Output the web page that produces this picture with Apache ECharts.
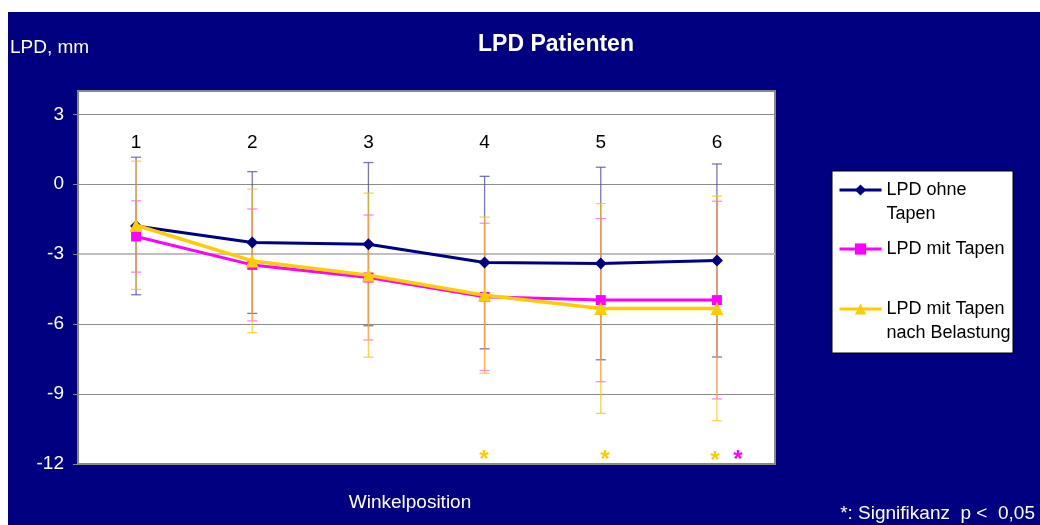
<!DOCTYPE html>
<html>
<head>
<meta charset="utf-8">
<script src="https://cdn.jsdelivr.net/npm/echarts@6/dist/echarts.min.js"></script>
<style>
html,body{margin:0;padding:0;background:#fff;width:1040px;height:525px;overflow:hidden;}
#c{position:absolute;left:8px;top:12px;width:1032px;height:513px;}
</style>
</head>
<body>
<div id="c"></div>
<script>
// ---- data ----
const categories = ['1', '2', '3', '4', '5', '6'];
const seriesNames = ['LPD ohne Tapen', 'LPD mit Tapen', 'LPD mit Tapen nach Belastung'];
const ohneTapen      = [-1.79, -2.50, -2.57, -3.36, -3.40, -3.27];
const ohneTapenSD    = [ 2.95,  3.04,  3.50,  3.70,  4.13,  4.14];
const mitTapen       = [-2.24, -3.46, -4.00, -4.83, -4.97, -4.97];
const mitTapenSD     = [ 1.53,  2.40,  2.68,  3.16,  3.50,  4.24];
const belastung      = [-1.76, -3.29, -3.90, -4.76, -5.33, -5.33];
const belastungSD    = [ 2.75,  3.08,  3.52,  3.35,  4.50,  4.82];
const yTicks = [-12, -9, -6, -3, 0, 3];

const FONT = "'Liberation Sans', Arial, sans-serif";
const chart = echarts.init(document.getElementById('c'));

function errSeries(name, means, sds, color, op) {
  return {
    type: 'custom', name: name + ' SD', silent: true, z: 1,
    data: means.map((m, i) => [i, m + sds[i], m - sds[i]]),
    renderItem: (params, api) => {
      const top = api.coord([api.value(0), api.value(1)]);
      const bot = api.coord([api.value(0), api.value(2)]);
      const hw = 5;
      const style = { stroke: color, lineWidth: 1.3, opacity: op };
      return { type: 'group', children: [
        { type: 'line', shape: { x1: top[0], y1: top[1], x2: bot[0], y2: bot[1] }, style },
        { type: 'line', shape: { x1: top[0] - hw, y1: top[1], x2: top[0] + hw, y2: top[1] }, style },
        { type: 'line', shape: { x1: bot[0] - hw, y1: bot[1], x2: bot[0] + hw, y2: bot[1] }, style }
      ]};
    }
  };
}

// leading blank line keeps the first text line level with the legend icon
const legendNames = {
  'LPD ohne Tapen': ' \nLPD ohne\nTapen',
  'LPD mit Tapen': 'LPD mit Tapen',
  'LPD mit Tapen nach Belastung': ' \nLPD mit Tapen\nnach Belastung'
};
function mkLegend(name, top) {
  return {
    data: [name], left: 830, top: top, orient: 'vertical', padding: 0,
    itemWidth: 42, itemHeight: 14, itemGap: 0, selectedMode: false,
    lineStyle: { width: 3 },
    formatter: n => legendNames[n],
    textStyle: { fontFamily: FONT, fontSize: 18, color: '#000', lineHeight: 24 }
  };
}

const option = {
  backgroundColor: '#000080',
  animation: false,
  grid: { left: 70, top: 79, right: 265, bottom: 61, show: true,
    backgroundColor: '#fff', borderColor: '#888', borderWidth: 2 },
  xAxis: {
    type: 'category', data: categories, position: 'top',
    axisLine: { show: false }, axisTick: { show: false },
    axisLabel: { inside: true, margin: 42, fontFamily: FONT, fontSize: 19, color: '#000' },
    splitLine: { show: false }
  },
  yAxis: {
    type: 'value', min: -12, max: 4, interval: 3,
    axisLine: { show: true, lineStyle: { color: '#888', width: 2 } },
    axisTick: { show: true, length: 5, lineStyle: { color: '#888' }, customValues: yTicks },
    axisLabel: { fontFamily: FONT, fontSize: 19, color: '#fff', margin: 14,
      formatter: v => (yTicks.indexOf(v) >= 0 ? String(v) : '') },
    splitLine: { show: true, lineStyle: { color: '#8c8c8c', width: 1.2 } }
  },
  legend: [
    mkLegend(seriesNames[0], 142),
    mkLegend(seriesNames[1], 225),
    mkLegend(seriesNames[2], 261)
  ],
  graphic: [
    { type: 'rect', z: -1, shape: { x: 824, y: 159, width: 181, height: 182 },
      style: { fill: '#fff', stroke: '#000', lineWidth: 1 } },
    { type: 'text', x: 2, y: 36, style: { text: 'LPD, mm', font: '19px ' + FONT, fill: '#fff', textVerticalAlign: 'middle' } },
    { type: 'text', x: 548, y: 33, style: { text: 'LPD Patienten', font: 'bold 23px ' + FONT, fill: '#fff', textAlign: 'center', textVerticalAlign: 'middle' } },
    { type: 'text', x: 402, y: 491, style: { text: 'Winkelposition', font: '19px ' + FONT, fill: '#fff', textAlign: 'center', textVerticalAlign: 'middle' } },
    { type: 'text', x: 1027, y: 502, style: { text: '*: Signifikanz  p <  0,05', font: '19px ' + FONT, fill: '#fff', textAlign: 'right', textVerticalAlign: 'middle' } },
    { type: 'text', x: 476, y: 448, z: 10, style: { text: '*', font: 'bold 24px ' + FONT, fill: '#ffcc00', textAlign: 'center', textVerticalAlign: 'middle' } },
    { type: 'text', x: 597, y: 448, z: 10, style: { text: '*', font: 'bold 24px ' + FONT, fill: '#ffcc00', textAlign: 'center', textVerticalAlign: 'middle' } },
    { type: 'text', x: 707, y: 449, z: 10, style: { text: '*', font: 'bold 24px ' + FONT, fill: '#ffcc00', textAlign: 'center', textVerticalAlign: 'middle' } },
    { type: 'text', x: 730, y: 448, z: 10, style: { text: '*', font: 'bold 24px ' + FONT, fill: '#ff00ff', textAlign: 'center', textVerticalAlign: 'middle' } }
  ],
  series: [
    errSeries(seriesNames[0], ohneTapen, ohneTapenSD, '#4a4aa8', 0.75),
    errSeries(seriesNames[1], mitTapen, mitTapenSD, '#ff33ff', 0.6),
    errSeries(seriesNames[2], belastung, belastungSD, '#ffc000', 0.7),
    {
      type: 'line', name: seriesNames[0], data: ohneTapen, z: 3,
      symbol: 'diamond', symbolSize: 12, showAllSymbol: true,
      lineStyle: { color: '#000080', width: 3 }, itemStyle: { color: '#000080' },
      markLine: { silent: true, symbol: 'none', label: { show: false },
        lineStyle: { color: '#c0c0c0', width: 2, type: 'solid' }, data: [{ yAxis: -3 }], z: 0 }
    },
    {
      type: 'line', name: seriesNames[1], data: mitTapen, z: 4,
      symbol: 'rect', symbolSize: 10, showAllSymbol: true,
      lineStyle: { color: '#ff00ff', width: 3 }, itemStyle: { color: '#ff00ff' }
    },
    {
      type: 'line', name: seriesNames[2], data: belastung, z: 5,
      symbol: 'triangle', symbolSize: 13, showAllSymbol: true,
      lineStyle: { color: '#ffcc00', width: 3.5 }, itemStyle: { color: '#ffcc00' }
    }
  ]
};
chart.setOption(option);
</script>
</body>
</html>
